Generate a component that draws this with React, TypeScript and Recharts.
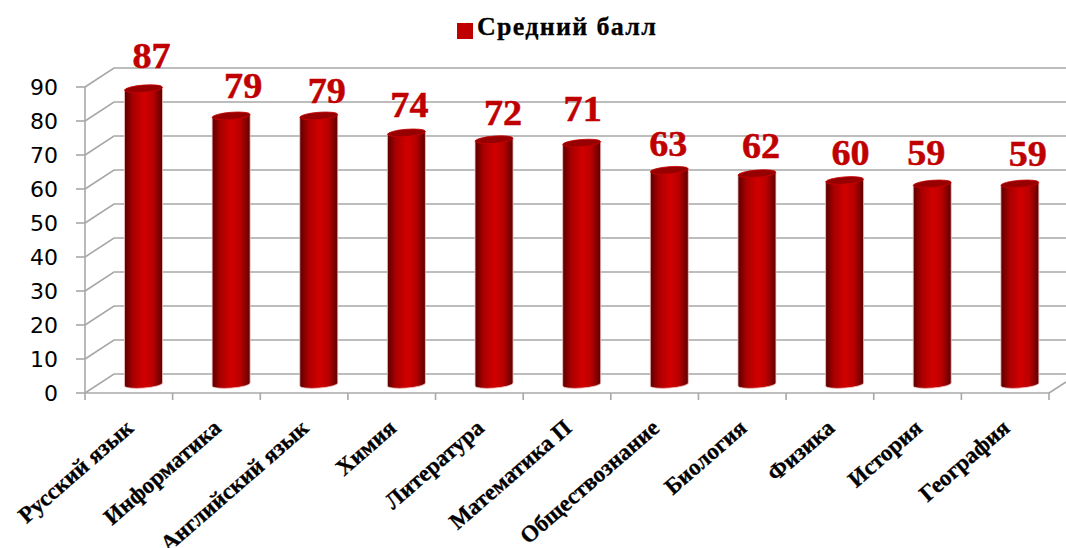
import { BarChart, Bar, XAxis, YAxis, CartesianGrid, Legend, LabelList } from 'recharts';

const subjects = ['Русский язык', 'Информатика', 'Английский язык', 'Химия', 'Литература', 'Математика П', 'Обществознание', 'Биология', 'Физика', 'История', 'География'];
const scores = [87, 79, 79, 74, 72, 71, 63, 62, 60, 59, 59];
const yTicks = [0, 10, 20, 30, 40, 50, 60, 70, 80, 90];

// hand placed labels in the original, nudges from the top of each bar
const labelDx = [8, 12, 8, 3, 9, 1, -1, 4, 6, -6, 8];
const labelDy = [-21, -18, -13, -16, -15, -22, -14, -16, -16, -19, -18];

const data = subjects.map((name, i) => ({ name, score: scores[i] }));

const W = 1066;
const H = 548;
const LEFT = 85;
const RIGHT = 1049;
const TOP = 87;
const BOTTOM = 393;
const BAND = (RIGHT - LEFT) / subjects.length;
const LEGEND_H = 26;

// fake 3d: back wall and bars are shifted from the front plane
const DEPTH_X = 29;
const DEPTH_Y = 19;
const BAR_DX = 14.5;
const BAR_DY = 8.5;
const GRID = '#a8a8a8';

const GridLine = (props: any) => {
    const { x1, y1 } = props;
    return (
        <g>
            <polyline
                points={`${x1},${y1} ${x1 + DEPTH_X},${y1 - DEPTH_Y} ${W},${y1 - DEPTH_Y}`}
                fill="none"
                stroke={GRID}
                strokeWidth={1.6}
            />
            {Math.abs(y1 - BOTTOM) < 1 && (
                <line x1={RIGHT} y1={y1} x2={W} y2={y1 - 11} stroke={GRID} strokeWidth={1.6} />
            )}
        </g>
    );
};

const Cylinder = (props: any) => {
    const { x, y, width, height } = props;
    const left = x + BAR_DX;
    const right = left + width;
    const top = y - BAR_DY;
    const bottom = y + height - BAR_DY;
    const rx = width / 2;
    const body = `M${left},${top + 1.5} L${left},${bottom + 1.5} A${rx},3.6 -4.5 0 0 ${right},${bottom - 1.5} L${right},${top - 1.5} Z`;
    return (
        <g>
            <path d={body} fill="url(#cyl)" stroke="#f0c4c4" strokeWidth={0.8} />
            <ellipse
                cx={left + rx}
                cy={top}
                rx={rx}
                ry={3.6}
                transform={`rotate(-4.5 ${left + rx} ${top})`}
                fill="#960000"
                stroke="#c80000"
                strokeWidth={0.8}
            />
        </g>
    );
};

const ScoreLabel = (props: any) => {
    const { x, y, width, value, index } = props;
    const lx = x + BAR_DX + width / 2 + labelDx[index];
    const ly = y - BAR_DY + labelDy[index];
    return (
        <text
            transform={`translate(${lx} ${ly}) scale(1.06 1)`}
            textAnchor="middle"
            fontFamily="'Liberation Serif', serif"
            fontWeight="bold"
            fontSize={36}
            fill="#c00000"
            stroke="#c00000"
            strokeWidth={0.5}
        >
            {value}
        </text>
    );
};

const SubjectTick = (props: any) => {
    const { x, y, index, payload } = props;
    const last = index === subjects.length - 1;
    return (
        <g>
            <line x1={x - BAND / 2} y1={BOTTOM} x2={x - BAND / 2} y2={BOTTOM + 7} stroke={GRID} strokeWidth={1.6} />
            {last && <line x1={x + BAND / 2} y1={BOTTOM} x2={x + BAND / 2} y2={BOTTOM + 7} stroke={GRID} strokeWidth={1.6} />}
            <text
                x={x + 6}
                y={y + 29}
                textAnchor="end"
                transform={`rotate(-41 ${x + 6} ${y + 29})`}
                fontFamily="'Liberation Serif', serif"
                fontWeight="bold"
                fontSize={23}
                fill="#000"
                stroke="#000"
                strokeWidth={0.3}
            >
                {payload.value}
            </text>
        </g>
    );
};

export default function App() {
    return (
        <div style={{ position: 'absolute', left: 0, top: 0, width: W, height: H, background: '#fff' }}>
            <BarChart
                width={W}
                height={H}
                data={data}
                margin={{ top: TOP - LEGEND_H, right: W - RIGHT, left: 0, bottom: 0 }}
            >
                <defs>
                    <linearGradient id="cyl" x1="0" y1="0" x2="1" y2="0">
                        <stop offset="0%" stopColor="#5a0000" />
                        <stop offset="22%" stopColor="#a80000" />
                        <stop offset="52%" stopColor="#d20000" />
                        <stop offset="75%" stopColor="#b80000" />
                        <stop offset="100%" stopColor="#5e0000" />
                    </linearGradient>
                </defs>
                <CartesianGrid vertical={false} horizontal={GridLine} />
                <XAxis
                    dataKey="name"
                    height={H - BOTTOM}
                    interval={0}
                    axisLine={{ stroke: GRID, strokeWidth: 1.6 }}
                    tickLine={false}
                    tick={SubjectTick}
                />
                <YAxis
                    width={LEFT}
                    domain={[0, 90]}
                    ticks={yTicks}
                    interval={0}
                    axisLine={{ stroke: GRID, strokeWidth: 1.6 }}
                    tickLine={{ stroke: GRID, strokeWidth: 1.6 }}
                    tickSize={9}
                    tickMargin={18}
                    tick={{ fill: '#000', fontSize: 22, fontFamily: "'DejaVu Sans', sans-serif" }}
                />
                <Legend
                    verticalAlign="top"
                    iconType="square"
                    iconSize={16}
                    height={LEGEND_H}
                    wrapperStyle={{ top: 12, left: 0, width: W, paddingLeft: 58, boxSizing: 'border-box' }}
                    formatter={(value: string) => (
                        <span style={{ color: '#000', fontFamily: "'Liberation Serif', serif", fontWeight: 'bold', fontSize: 26, letterSpacing: 1.3, WebkitTextStroke: '0.3px #000' }}>{value}</span>
                    )}
                />
                <Bar
                    dataKey="score"
                    name="Средний балл"
                    fill="#c00000"
                    barSize={38}
                    shape={Cylinder}
                    isAnimationActive={false}
                >
                    <LabelList dataKey="score" content={ScoreLabel} />
                </Bar>
            </BarChart>
        </div>
    );
}
